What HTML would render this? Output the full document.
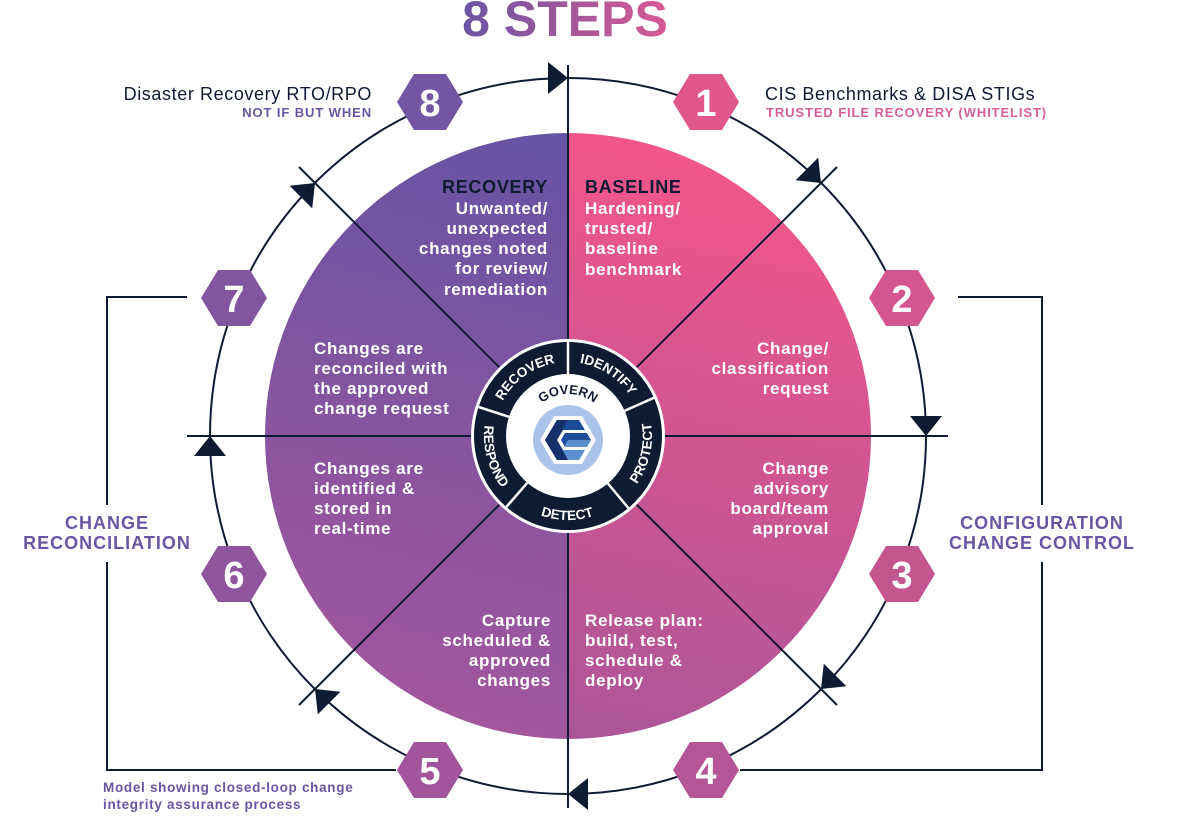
<!DOCTYPE html>
<html><head><meta charset="utf-8"><style>
html,body{margin:0;padding:0;background:#fff;}
svg{display:block;}
text{font-family:"Liberation Sans",sans-serif;}
</style></head><body>
<svg width="1194" height="825" viewBox="0 0 1194 825" xmlns="http://www.w3.org/2000/svg">
<defs>
<linearGradient id="tg" x1="0" y1="0" x2="1" y2="0"><stop offset="0" stop-color="#6a55a3"/><stop offset="1" stop-color="#d85a93"/></linearGradient>
<linearGradient id="lg" gradientUnits="userSpaceOnUse" x1="560" y1="140" x2="420" y2="730"><stop offset="0" stop-color="#6553a3"/><stop offset="0.5" stop-color="#8555a0"/><stop offset="1" stop-color="#a4569b"/></linearGradient>
<linearGradient id="rg" gradientUnits="userSpaceOnUse" x1="590" y1="150" x2="470" y2="740"><stop offset="0" stop-color="#f0568a"/><stop offset="0.5" stop-color="#cc5592"/><stop offset="1" stop-color="#a9569a"/></linearGradient>
<path id="pRecover" d="M497.6,413.1 A74,74 0 0 1 568,362"/>
<path id="pIdentify" d="M568,362 A74,74 0 0 1 635.6,405.9"/>
<path id="pProtect" d="M622,500.3 A84,84 0 0 0 644.7,401.8"/>
<path id="pDetect" d="M512.9,499.4 A84,84 0 0 0 622,500.3"/>
<path id="pRespond" d="M488.1,410 A84,84 0 0 0 512.9,499.4"/>
<path id="pGovern" d="M538.3,406.3 A42,42 0 0 1 597.7,406.3"/>
</defs>

<text x="565" y="36" text-anchor="middle" font-size="50" font-weight="bold" fill="url(#tg)">8 STEPS</text>

<g stroke="#0f1a33" stroke-width="2" fill="none">
<polyline points="187,297 107,297 107,505"/>
<polyline points="107,562 107,770 396,770"/>
<polyline points="958,297 1042,297 1042,505"/>
<polyline points="1042,562 1042,770 740,770"/>
</g>

<circle cx="568" cy="436" r="358" fill="none" stroke="#0f1a33" stroke-width="2"/>

<path d="M568,133 A303,303 0 0 0 568,739 Z" fill="url(#lg)"/>
<path d="M568,133 A303,303 0 0 1 568,739 Z" fill="url(#rg)"/>

<g stroke="#0f1a33" stroke-width="2">
<line x1="568" y1="65" x2="568" y2="808"/>
<line x1="187" y1="436" x2="948" y2="436"/>
<line x1="299" y1="167" x2="837" y2="705"/>
<line x1="837" y1="167" x2="299" y2="705"/>
</g>

<g fill="#0f1a33">
<polygon points="568,78 548,62 548,94"/>
<polygon points="821,183 795.6,180.2 818.2,157.6"/>
<polygon points="926,436 910,416 942,416"/>
<polygon points="821,689 823.8,663.6 846.4,686.2"/>
<polygon points="568,794 588,778 588,810"/>
<polygon points="315,689 340.4,691.8 317.8,714.4"/>
<polygon points="210,436 194,456 226,456"/>
<polygon points="315,183 312.2,208.4 289.6,185.8"/>
</g>

<g font-size="38" font-weight="bold" fill="#fff" text-anchor="middle">
<polygon points="673,102 690,74 722,74 739,102 722,130 690,130" fill="#e0578c"/><text x="706" y="116" fill="#fff">1</text>
<polygon points="869,298 886,270 918,270 935,298 918,326 886,326" fill="#d4568e"/><text x="902" y="312" fill="#fff">2</text>
<polygon points="869,574 886,546 918,546 935,574 918,602 886,602" fill="#c4568f"/><text x="902" y="588" fill="#fff">3</text>
<polygon points="673,770 690,742 722,742 739,770 722,798 690,798" fill="#b45598"/><text x="706" y="784" fill="#fff">4</text>
<polygon points="397,770 414,742 446,742 463,770 446,798 414,798" fill="#a3559c"/><text x="430" y="784" fill="#fff">5</text>
<polygon points="201,574 218,546 250,546 267,574 250,602 218,602" fill="#8f559d"/><text x="234" y="588" fill="#fff">6</text>
<polygon points="201,298 218,270 250,270 267,298 250,326 218,326" fill="#8155a0"/><text x="234" y="312" fill="#fff">7</text>
<polygon points="397,102 414,74 446,74 463,102 446,130 414,130" fill="#7255a3"/><text x="430" y="116" fill="#fff">8</text>
</g>

<text x="372" y="100" text-anchor="end" font-size="18" letter-spacing="0.6" fill="#0f1a33">Disaster Recovery RTO/RPO</text>
<text x="372" y="117" text-anchor="end" font-size="13" letter-spacing="0.9" font-weight="bold" fill="#6a55a3">NOT IF BUT WHEN</text>
<text x="765" y="100" font-size="18" letter-spacing="0.6" fill="#0f1a33">CIS Benchmarks &amp; DISA STIGs</text>
<text x="766" y="117" font-size="13" letter-spacing="0.9" font-weight="bold" fill="#d6609a">TRUSTED FILE RECOVERY (WHITELIST)</text>
<g font-size="18" letter-spacing="1" font-weight="bold" fill="#6a55a3" text-anchor="middle">
<text x="107" y="529">CHANGE</text><text x="107" y="549">RECONCILIATION</text>
<text x="1042" y="529">CONFIGURATION</text><text x="1042" y="549">CHANGE CONTROL</text>
</g>
<text x="103" y="792" font-size="13.5" letter-spacing="0.7" font-weight="bold" fill="#6a55a3">Model showing closed-loop change</text>
<text x="103" y="809" font-size="13.5" letter-spacing="0.7" font-weight="bold" fill="#6a55a3">integrity assurance process</text>

<g font-size="17" letter-spacing="0.7" font-weight="bold" fill="#fff">
<text x="585" y="193" fill="#0f1a33" font-size="18">BASELINE</text>
<text x="585" y="214">Hardening/</text><text x="585" y="234">trusted/</text><text x="585" y="254">baseline</text><text x="585" y="275">benchmark</text>
<g text-anchor="end">
<text x="548" y="193" fill="#0f1a33" font-size="18">RECOVERY</text>
<text x="548" y="214">Unwanted/</text><text x="548" y="234">unexpected</text><text x="548" y="254">changes noted</text><text x="548" y="274">for review/</text><text x="548" y="295">remediation</text>
<text x="829" y="354">Change/</text><text x="829" y="374">classification</text><text x="829" y="394">request</text>
<text x="829" y="474">Change</text><text x="829" y="494">advisory</text><text x="829" y="514">board/team</text><text x="829" y="534">approval</text>
<text x="551" y="626">Capture</text><text x="551" y="646">scheduled &amp;</text><text x="551" y="666">approved</text><text x="551" y="686">changes</text>
</g>
<text x="314" y="354">Changes are</text><text x="314" y="374">reconciled with</text><text x="314" y="394">the approved</text><text x="314" y="414">change request</text>
<text x="314" y="474">Changes are</text><text x="314" y="494">identified &amp;</text><text x="314" y="514">stored in</text><text x="314" y="534">real-time</text>
<text x="585" y="626">Release plan:</text><text x="585" y="646">build, test,</text><text x="585" y="666">schedule &amp;</text><text x="585" y="686">deploy</text>
</g>

<circle cx="568" cy="436" r="97" fill="#fff"/>
<circle cx="568" cy="436" r="94" fill="#0f1a33"/>
<circle cx="568" cy="436" r="62" fill="#fff"/>
<g stroke="#fff" stroke-width="2.5">
<line x1="568" y1="374" x2="568" y2="342"/>
<line x1="624.6" y1="410.8" x2="653.9" y2="397.8"/>
<line x1="607.9" y1="483.5" x2="628.4" y2="508"/>
<line x1="527.3" y1="482.8" x2="506.3" y2="507"/>
<line x1="509" y1="416.8" x2="478.6" y2="407"/>
</g>
<g font-size="13.5" font-weight="bold" fill="#fff" text-anchor="middle">
<text><textPath href="#pRecover" startOffset="50%">RECOVER</textPath></text>
<text><textPath href="#pIdentify" startOffset="50%">IDENTIFY</textPath></text>
<text><textPath href="#pProtect" startOffset="50%">PROTECT</textPath></text>
<text><textPath href="#pDetect" startOffset="50%">DETECT</textPath></text>
<text><textPath href="#pRespond" startOffset="50%">RESPOND</textPath></text>
<text fill="#0f1a33" font-size="13"><textPath href="#pGovern" startOffset="50%">GOVERN</textPath></text>
</g>
<circle cx="568" cy="440" r="35" fill="#abc3e6"/>
<polygon points="540,440 554,416 582,416 596,440 582,464 554,464" fill="#fff"/>
<polygon points="545,440 557,420 579,420 591,440 579,460 557,460" fill="#1d4d9a"/>
<polygon points="568,440 591,440 579,460 557,460" fill="#5b8fd0"/>
<polygon points="557,440 563,430 591,430 591,433 565,433 561,440 565,447 591,447 591,450 563,450" fill="#fff"/>
<polygon points="545,440 557,420 568,420 557,440 568,460 557,460" fill="#16306a"/>
</svg>
</body></html>
